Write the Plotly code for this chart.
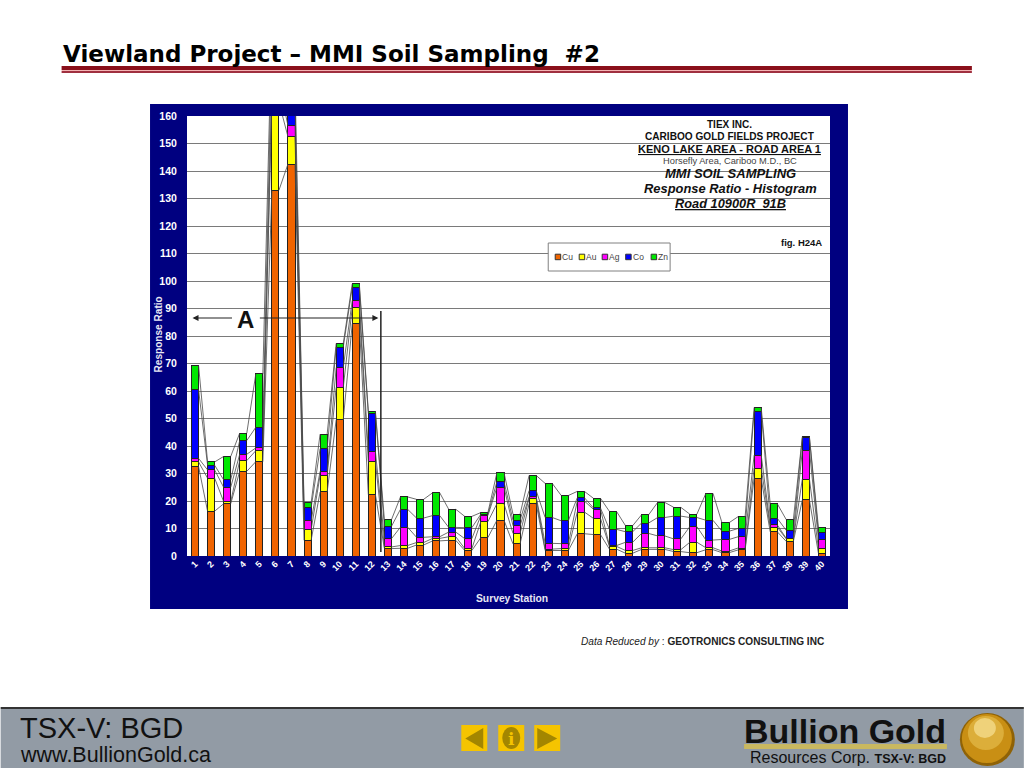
import plotly.graph_objects as go

stations = list(range(1, 41))
cu = [32.5,16.3,19,30.8,34.3,133,142.5,5.7,23.3,49.5,84.5,22.3,2.7,2.8,4,5.5,5.7,2,6.7,13,4.4,19,2,2,8.1,7.8,2.5,1,2.4,2.4,1.6,1.2,2.3,1.2,2.2,28.2,8.8,5.3,20.4,1]
au = [1.7,12,0.8,3.9,4,32,10,3.8,6,11.8,5.8,12,0.6,1,0.9,0.9,1.3,0.7,5.8,6,3.8,2,0.5,0.7,7.9,5.9,1,1,0.6,0.6,0.7,3.8,0.7,0.6,0.7,3.8,1.7,0.9,7.6,1.7]
ag = [1.3,3,5.2,2.3,1,7,4,3.3,1.5,7.2,2.7,3.7,3,6.7,1.9,0.6,1.7,3.6,2.2,6,2.8,0.6,2.1,1.8,4,3.3,0.3,3,5.2,4.3,3.9,5.7,2.8,4.2,4.1,4.7,0.8,0.2,10.5,3.3]
co = [25,1.7,2.7,5,7.5,13,8.5,4.7,8.2,7.5,4.7,13.8,4.5,6.5,7,7.7,1.7,4,0.5,2,2,2.2,9.4,8.3,1.2,0.5,5.9,3.8,3.8,6.7,8.3,3.3,7.2,3,3,15.9,2.4,2.9,4.5,2.4]
zn = [8.8,1.2,8.5,2.7,19.4,10,7,1.8,5.3,1.3,1.3,0.9,2.4,4.5,6.8,8.3,6.6,4.1,0.6,3.3,2.2,5.5,12.4,9.2,2.3,3.5,6.5,2.2,3,5.5,3.2,1.2,9.8,3.1,4.3,1.4,5.3,3.9,0.4,2]
series = [("Cu", cu, "#f06400"), ("Au", au, "#ffff00"), ("Ag", ag, "#ff00ff"), ("Co", co, "#0000ff"), ("Zn", zn, "#00e800")]
y_ticks = list(range(0, 161, 10))

L, R, T, B = 186.5, 830.0, 116.0, 556.0
def px(x): return (x - L) / (R - L)
def py(y): return (B - y) / (B - T)

BAR_W = 0.44
fig = go.Figure()
running = [0.0] * 40
for name, values, color in series:
    fig.add_trace(go.Bar(x=stations, y=values, name=name, width=BAR_W, showlegend=False,
                         marker=dict(color=color, line=dict(color="#222222", width=1)),
                         hoverinfo="skip"))
for name, values, color in series:
    running = [a + b for a, b in zip(running, values)]
    xs, ys = [], []
    for i in range(39):
        xs += [stations[i] + BAR_W / 2, stations[i + 1] - BAR_W / 2, None]
        ys += [running[i], running[i + 1], None]
    fig.add_trace(go.Scatter(x=xs, y=ys, mode="lines", showlegend=False, hoverinfo="skip",
                             line=dict(color="#4a4a4a", width=0.8)))

shapes = []
def rect(x0, y0, x1, y1, fill, layer="below", line=None):
    shapes.append(dict(type="rect", xref="paper", yref="paper", x0=px(x0), x1=px(x1), y0=py(y0), y1=py(y1),
                       fillcolor=fill, line=dict(width=0) if line is None else line, layer=layer))
def poly(points, fill):
    d = "M" + " L".join(f"{px(a):.5f},{py(b):.5f}" for a, b in points) + " Z"
    shapes.append(dict(type="path", xref="paper", yref="paper", path=d, fillcolor=fill, line=dict(width=0), layer="above"))
def ellipse(x0, y0, x1, y1, fill):
    shapes.append(dict(type="circle", xref="paper", yref="paper", x0=px(x0), x1=px(x1), y0=py(y0), y1=py(y1),
                       fillcolor=fill, line=dict(width=0), layer="above"))

# chart panel
rect(149.5, 104, 848, 609, "#000080")
rect(L, T, R, B, "#ffffff")
# title rule
rect(61, 66, 972, 70, "#8a0f1a")
rect(61, 70, 972, 71, "#f4b4b4")
rect(61, 71, 972, 73, "#a03040")
# footer
rect(0, 707, 1024, 709, "#333333")
rect(0, 709, 1024, 768, "#929ba5")
for x0 in (461, 498, 534):
    rect(x0, 725, x0 + 26, 751, "#f5c400", layer="above")
poly([(483, 728), (483, 749), (465, 738.5)], "#a38600")
poly([(537, 728), (537, 749), (557, 738.5)], "#a38600")
ellipse(502, 727, 520, 749, "#a38600")
rect(744, 744, 947, 749, "#c9b860", layer="above")
ellipse(960, 713, 1015, 766, "#8f6206")
ellipse(962, 714, 1012, 763, "#c98f14")
ellipse(968, 716, 1004, 750, "#dcae3a")
ellipse(974, 718, 996, 738, "#efd27a")
# bracket line
shapes.append(dict(type="line", xref="paper", yref="paper", x0=px(380.5), x1=px(380.5), y0=py(311), y1=py(552),
                   line=dict(color="#222222", width=1.5), layer="above"))

SANS = "Liberation Sans"
def note(x, y, text, size, color="#111111", anchor="center", font=SANS, angle=0, bg=None):
    shift = {"left": -2, "right": 2, "center": 0}[anchor]
    return dict(xref="paper", yref="paper", x=px(x + shift), y=py(y), text=text, showarrow=False, xanchor=anchor,
                yanchor="middle", textangle=angle, bgcolor=bg,
                font=dict(family=font, size=size, color=color))
def arrow(x_tip, x_tail, y):
    return dict(xref="paper", yref="paper", x=px(x_tip), y=py(y), ax=x_tail - x_tip, ay=0, axref="pixel", ayref="pixel",
                text="", showarrow=True, arrowhead=2, arrowsize=1, arrowwidth=1.2, arrowcolor="#222222")

annotations = [
    note(62, 54, "<b>Viewland Project – MMI Soil Sampling  #2</b>", 23, "#000000", "left", "DejaVu Sans"),
    note(729.5, 124.5, "<b>TIEX INC.</b>", 10),
    note(729.5, 136.5, "<b>CARIBOO GOLD FIELDS PROJECT</b>", 10.1),
    note(729.5, 148.5, "<b><u>KENO LAKE AREA - ROAD AREA 1</u></b>", 11),
    note(729.5, 160.5, "Horsefly Area, Cariboo M.D., BC", 9.3, "#444444"),
    note(730, 173, "<b><i>MMI SOIL SAMPLING</i></b>", 13),
    note(730, 188, "<b><i>Response Ratio - Histogram</i></b>", 12.9),
    note(730, 203, "<b><i><u>Road 10900R  91B</u></i></b>", 12.8),
    note(822, 242, "<b>fig. H24A</b>", 9.5, anchor="right"),
    note(245.5, 319.5, "<b>A</b>", 24, "#111111"),
    arrow(192, 233, 318),
    arrow(378, 258, 318),
    note(512, 598, "<b>Survey Station</b>", 10.3, "#e8e8f4"),
    note(157, 335, "<b>Response Ratio</b>", 10.1, "#e8e8f4", angle=-90),
    note(581, 641, "<i>Data Reduced by</i> : <b>GEOTRONICS CONSULTING INC</b>", 10.1, "#222222", "left"),
    note(19, 728, "TSX-V: BGD", 29, "#111111", "left"),
    note(19, 755, "www.BullionGold.ca", 21.5, "#111111", "left"),
    note(511, 738.5, "<b>i</b>", 17, "#f5c400", font="DejaVu Serif"),
    note(744, 731, "<b>Bullion Gold</b>", 34, "#111111", "left"),
    note(750, 757, "Resources Corp. <b><span style='font-size:12.5px'>TSX-V: BGD</span></b>", 16, "#111111", "left"),
]

# legend panel
rect(548, 243, 670, 271, "#ffffff", layer="above", line=dict(color="#808080", width=1))
legend_x = [555, 579, 602, 625.5, 651]
for (name, values, color), lx in zip(series, legend_x):
    rect(lx, 254.2, lx + 5.5, 259.7, color, layer="above", line=dict(color="#333333", width=1))
    annotations.append(note(lx + 7, 257, name, 8.5, "#444444", "left"))

fig.update_layout(
    width=1024, height=768, barmode="stack", bargap=0.5,
    margin=dict(l=L, r=1024 - R, t=T, b=768 - B, autoexpand=False),
    paper_bgcolor="#ffffff", plot_bgcolor="rgba(0,0,0,0)",
    showlegend=False,
    xaxis=dict(range=[0.5, 40.5], tickmode="array", tickvals=stations, ticktext=[f"<b>{s}</b>" for s in stations],
               tickangle=-45, showgrid=False, zeroline=False, showline=False, ticks="",
               tickfont=dict(family=SANS, size=9, color="#ffffff")),
    yaxis=dict(range=[0, 160], tickmode="array", tickvals=y_ticks, ticktext=[f"<b>{t}</b>" for t in y_ticks],
               showgrid=True, gridcolor="#7a7a7a", gridwidth=1, zeroline=False, showline=False,
               ticks="outside", ticklen=7, tickcolor="#000080",
               tickfont=dict(family=SANS, size=10.5, color="#ffffff")),
    shapes=shapes, annotations=annotations, font=dict(family=SANS),
)
fig.write_html("out.html", config=dict(displayModeBar=False),
               post_script="document.body.style.margin='0';document.documentElement.style.overflow='hidden';")
